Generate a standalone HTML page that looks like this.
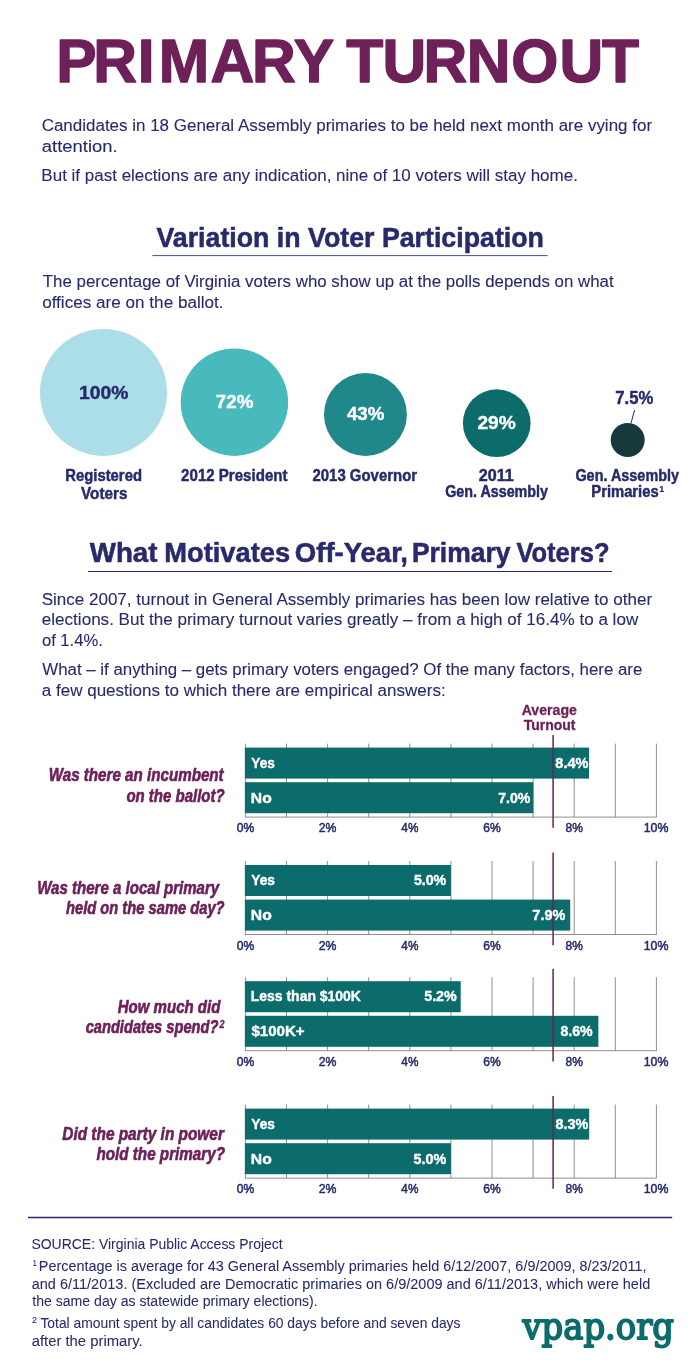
<!DOCTYPE html>
<html lang="en">
<head>
<meta charset="utf-8">
<title>Primary Turnout</title>
<style>
html,body{margin:0;padding:0;background:#fff}
svg{display:block;transform:translateZ(0);will-change:transform}
text{font-family:"Liberation Sans",sans-serif;white-space:pre}
</style>
</head>
<body>
<svg width="700" height="1368" viewBox="0 0 700 1368">
<rect width="700" height="1368" fill="#fff"/>
<circle cx="103.5" cy="392.4" r="63.5" fill="#abdee8"/>
<circle cx="234.4" cy="402.2" r="53.7" fill="#48b9bd"/>
<circle cx="365.45" cy="414.45" r="41.45" fill="#20888a"/>
<circle cx="496.75" cy="423.15" r="33.85" fill="#0c6c6b"/>
<circle cx="627.7" cy="440.0" r="17.0" fill="#163a3c"/>
<line x1="634.6" y1="410" x2="631" y2="423.2" stroke="#272a6b" stroke-width="1"/>
<line x1="152.4" y1="255.6" x2="547.6" y2="255.6" stroke="#4c508c" stroke-width="1"/>
<line x1="88" y1="571.5" x2="612" y2="571.5" stroke="#272a6b" stroke-width="1"/>
<line x1="28" y1="1217.4" x2="672.2" y2="1217.4" stroke="#272a6b" stroke-width="1.5"/>
<line x1="245.40" y1="743.60" x2="245.40" y2="817.10" stroke="#7c7c7c" stroke-width="0.85"/>
<line x1="286.50" y1="743.60" x2="286.50" y2="817.10" stroke="#7c7c7c" stroke-width="0.85"/>
<line x1="327.60" y1="743.60" x2="327.60" y2="817.10" stroke="#7c7c7c" stroke-width="0.85"/>
<line x1="368.70" y1="743.60" x2="368.70" y2="817.10" stroke="#7c7c7c" stroke-width="0.85"/>
<line x1="409.80" y1="743.60" x2="409.80" y2="817.10" stroke="#7c7c7c" stroke-width="0.85"/>
<line x1="450.90" y1="743.60" x2="450.90" y2="817.10" stroke="#7c7c7c" stroke-width="0.85"/>
<line x1="492.00" y1="743.60" x2="492.00" y2="817.10" stroke="#7c7c7c" stroke-width="0.85"/>
<line x1="533.10" y1="743.60" x2="533.10" y2="817.10" stroke="#7c7c7c" stroke-width="0.85"/>
<line x1="574.20" y1="743.60" x2="574.20" y2="817.10" stroke="#7c7c7c" stroke-width="0.85"/>
<line x1="615.30" y1="743.60" x2="615.30" y2="817.10" stroke="#7c7c7c" stroke-width="0.85"/>
<line x1="656.40" y1="743.60" x2="656.40" y2="817.10" stroke="#7c7c7c" stroke-width="0.85"/>
<line x1="244.95" y1="817.10" x2="656.85" y2="817.10" stroke="#7c7c7c" stroke-width="0.85"/>
<rect x="244.90" y="747.60" width="344.10" height="31" fill="#0c6c6b"/>
<rect x="244.90" y="782.20" width="288.40" height="31" fill="#0c6c6b"/>
<line x1="553.1" y1="735.10" x2="553.1" y2="827.80" stroke="#6e2058" stroke-width="1.5"/>
<line x1="245.40" y1="861.00" x2="245.40" y2="934.50" stroke="#7c7c7c" stroke-width="0.85"/>
<line x1="286.50" y1="861.00" x2="286.50" y2="934.50" stroke="#7c7c7c" stroke-width="0.85"/>
<line x1="327.60" y1="861.00" x2="327.60" y2="934.50" stroke="#7c7c7c" stroke-width="0.85"/>
<line x1="368.70" y1="861.00" x2="368.70" y2="934.50" stroke="#7c7c7c" stroke-width="0.85"/>
<line x1="409.80" y1="861.00" x2="409.80" y2="934.50" stroke="#7c7c7c" stroke-width="0.85"/>
<line x1="450.90" y1="861.00" x2="450.90" y2="934.50" stroke="#7c7c7c" stroke-width="0.85"/>
<line x1="492.00" y1="861.00" x2="492.00" y2="934.50" stroke="#7c7c7c" stroke-width="0.85"/>
<line x1="533.10" y1="861.00" x2="533.10" y2="934.50" stroke="#7c7c7c" stroke-width="0.85"/>
<line x1="574.20" y1="861.00" x2="574.20" y2="934.50" stroke="#7c7c7c" stroke-width="0.85"/>
<line x1="615.30" y1="861.00" x2="615.30" y2="934.50" stroke="#7c7c7c" stroke-width="0.85"/>
<line x1="656.40" y1="861.00" x2="656.40" y2="934.50" stroke="#7c7c7c" stroke-width="0.85"/>
<line x1="244.95" y1="934.50" x2="656.85" y2="934.50" stroke="#7c7c7c" stroke-width="0.85"/>
<rect x="244.90" y="865.00" width="206.00" height="31" fill="#0c6c6b"/>
<rect x="244.90" y="899.60" width="325.30" height="31" fill="#0c6c6b"/>
<line x1="553.1" y1="852.50" x2="553.1" y2="945.20" stroke="#6e2058" stroke-width="1.5"/>
<line x1="245.40" y1="977.20" x2="245.40" y2="1050.70" stroke="#7c7c7c" stroke-width="0.85"/>
<line x1="286.50" y1="977.20" x2="286.50" y2="1050.70" stroke="#7c7c7c" stroke-width="0.85"/>
<line x1="327.60" y1="977.20" x2="327.60" y2="1050.70" stroke="#7c7c7c" stroke-width="0.85"/>
<line x1="368.70" y1="977.20" x2="368.70" y2="1050.70" stroke="#7c7c7c" stroke-width="0.85"/>
<line x1="409.80" y1="977.20" x2="409.80" y2="1050.70" stroke="#7c7c7c" stroke-width="0.85"/>
<line x1="450.90" y1="977.20" x2="450.90" y2="1050.70" stroke="#7c7c7c" stroke-width="0.85"/>
<line x1="492.00" y1="977.20" x2="492.00" y2="1050.70" stroke="#7c7c7c" stroke-width="0.85"/>
<line x1="533.10" y1="977.20" x2="533.10" y2="1050.70" stroke="#7c7c7c" stroke-width="0.85"/>
<line x1="574.20" y1="977.20" x2="574.20" y2="1050.70" stroke="#7c7c7c" stroke-width="0.85"/>
<line x1="615.30" y1="977.20" x2="615.30" y2="1050.70" stroke="#7c7c7c" stroke-width="0.85"/>
<line x1="656.40" y1="977.20" x2="656.40" y2="1050.70" stroke="#7c7c7c" stroke-width="0.85"/>
<line x1="244.95" y1="1050.70" x2="656.85" y2="1050.70" stroke="#7c7c7c" stroke-width="0.85"/>
<rect x="244.90" y="981.20" width="215.80" height="31" fill="#0c6c6b"/>
<rect x="244.90" y="1015.80" width="353.50" height="31" fill="#0c6c6b"/>
<line x1="553.1" y1="968.70" x2="553.1" y2="1061.40" stroke="#6e2058" stroke-width="1.5"/>
<line x1="245.40" y1="1104.60" x2="245.40" y2="1178.10" stroke="#7c7c7c" stroke-width="0.85"/>
<line x1="286.50" y1="1104.60" x2="286.50" y2="1178.10" stroke="#7c7c7c" stroke-width="0.85"/>
<line x1="327.60" y1="1104.60" x2="327.60" y2="1178.10" stroke="#7c7c7c" stroke-width="0.85"/>
<line x1="368.70" y1="1104.60" x2="368.70" y2="1178.10" stroke="#7c7c7c" stroke-width="0.85"/>
<line x1="409.80" y1="1104.60" x2="409.80" y2="1178.10" stroke="#7c7c7c" stroke-width="0.85"/>
<line x1="450.90" y1="1104.60" x2="450.90" y2="1178.10" stroke="#7c7c7c" stroke-width="0.85"/>
<line x1="492.00" y1="1104.60" x2="492.00" y2="1178.10" stroke="#7c7c7c" stroke-width="0.85"/>
<line x1="533.10" y1="1104.60" x2="533.10" y2="1178.10" stroke="#7c7c7c" stroke-width="0.85"/>
<line x1="574.20" y1="1104.60" x2="574.20" y2="1178.10" stroke="#7c7c7c" stroke-width="0.85"/>
<line x1="615.30" y1="1104.60" x2="615.30" y2="1178.10" stroke="#7c7c7c" stroke-width="0.85"/>
<line x1="656.40" y1="1104.60" x2="656.40" y2="1178.10" stroke="#7c7c7c" stroke-width="0.85"/>
<line x1="244.95" y1="1178.10" x2="656.85" y2="1178.10" stroke="#7c7c7c" stroke-width="0.85"/>
<rect x="244.90" y="1108.60" width="344.30" height="31" fill="#0c6c6b"/>
<rect x="244.90" y="1143.20" width="206.00" height="31" fill="#0c6c6b"/>
<line x1="553.1" y1="1096.10" x2="553.1" y2="1188.80" stroke="#6e2058" stroke-width="1.5"/>
<text x="57.18 94.58 139.98 161.11 213.69 255.95 298.29 298.29 351.65 388.41 429.96 473.79 519.10 567.95 611.20" transform="translate(0 82.00) scale(0.9850 1)" font-size="61.5" fill="#6e2058" font-weight="bold" stroke="#6e2058" stroke-width="1.4" stroke-linejoin="round">PRIMARY TURNOUT</text>
<text transform="translate(41.66 131.00) scale(0.9824 1)" font-size="17.3" fill="#272a6b" stroke="#272a6b" stroke-width="0.1" stroke-linejoin="round">Candidates in 18 General Assembly primaries to be held next month are vying for</text>
<text transform="translate(41.85 151.50) scale(1.0658 1)" font-size="17.3" fill="#272a6b" stroke="#272a6b" stroke-width="0.1" stroke-linejoin="round">attention.</text>
<text transform="translate(41.34 180.50) scale(0.9832 1)" font-size="17.3" fill="#272a6b" stroke="#272a6b" stroke-width="0.1" stroke-linejoin="round">But if past elections are any indication, nine of 10 voters will stay home.</text>
<text transform="translate(156.47 247.20) scale(0.9695 1)" font-size="27.6" fill="#272a6b" font-weight="bold" stroke="#272a6b" stroke-width="0.55" stroke-linejoin="round">Variation in Voter Participation</text>
<text transform="translate(42.76 287.00) scale(0.9764 1)" font-size="17.3" fill="#272a6b" stroke="#272a6b" stroke-width="0.1" stroke-linejoin="round">The percentage of Virginia voters who show up at the polls depends on what</text>
<text transform="translate(42.14 307.50) scale(0.9902 1)" font-size="17.3" fill="#272a6b" stroke="#272a6b" stroke-width="0.1" stroke-linejoin="round">offices are on the ballot.</text>
<text transform="translate(79.08 399.00) scale(1.0391 1)" font-size="18.6" fill="#272a6b" font-weight="bold" stroke="#272a6b" stroke-width="0.4" stroke-linejoin="round">100%</text>
<text transform="translate(215.84 408.40) scale(1.0115 1)" font-size="18.6" fill="#ffffff" font-weight="bold" stroke="#ffffff" stroke-width="0.4" stroke-linejoin="round">72%</text>
<text transform="translate(346.93 420.40) scale(1.0068 1)" font-size="18.6" fill="#ffffff" font-weight="bold" stroke="#ffffff" stroke-width="0.4" stroke-linejoin="round">43%</text>
<text transform="translate(477.40 429.40) scale(1.0279 1)" font-size="18.6" fill="#ffffff" font-weight="bold" stroke="#ffffff" stroke-width="0.4" stroke-linejoin="round">29%</text>
<text transform="translate(615.26 404.40) scale(0.9499 1)" font-size="17.6" fill="#272a6b" font-weight="bold" stroke="#272a6b" stroke-width="0.4" stroke-linejoin="round">7.5%</text>
<text transform="translate(65.28 480.60) scale(0.9460 1)" font-size="15.7" fill="#272a6b" font-weight="bold" stroke="#272a6b" stroke-width="0.45" stroke-linejoin="round">Registered</text>
<text transform="translate(81.04 499.00) scale(0.9716 1)" font-size="15.7" fill="#272a6b" font-weight="bold" stroke="#272a6b" stroke-width="0.45" stroke-linejoin="round">Voters</text>
<text transform="translate(181.12 480.60) scale(0.9609 1)" font-size="15.7" fill="#272a6b" font-weight="bold" stroke="#272a6b" stroke-width="0.45" stroke-linejoin="round">2012 President</text>
<text transform="translate(312.51 480.60) scale(0.9516 1)" font-size="15.7" fill="#272a6b" font-weight="bold" stroke="#272a6b" stroke-width="0.45" stroke-linejoin="round">2013 Governor</text>
<text transform="translate(478.78 480.50) scale(1.0282 1)" font-size="15.7" fill="#272a6b" font-weight="bold" stroke="#272a6b" stroke-width="0.45" stroke-linejoin="round">2011</text>
<text transform="translate(445.13 496.80) scale(0.9126 1)" font-size="15.7" fill="#272a6b" font-weight="bold" stroke="#272a6b" stroke-width="0.45" stroke-linejoin="round">Gen. Assembly</text>
<text transform="translate(575.40 480.60) scale(0.9193 1)" font-size="15.7" fill="#272a6b" font-weight="bold" stroke="#272a6b" stroke-width="0.45" stroke-linejoin="round">Gen. Assembly</text>
<text transform="translate(591.30 497.00) scale(0.9414 1)" font-size="15.7" fill="#272a6b" font-weight="bold" stroke="#272a6b" stroke-width="0.45" stroke-linejoin="round">Primaries</text>
<text transform="translate(659.29 491.70) scale(1.0278 1)" font-size="8.7" fill="#272a6b" font-weight="bold" stroke="#272a6b" stroke-width="0.2" stroke-linejoin="round">1</text>
<text y="561.90" font-size="27.6" fill="#272a6b" font-weight="bold" stroke="#272a6b" stroke-width="0.55" stroke-linejoin="round"><tspan x="89.73" textLength="67.80" lengthAdjust="spacingAndGlyphs">What</tspan> <tspan x="164.26" textLength="125.82" lengthAdjust="spacingAndGlyphs">Motivates</tspan> <tspan x="294.86" textLength="113.15" lengthAdjust="spacingAndGlyphs">Off-Year,</tspan> <tspan x="411.89" textLength="98.65" lengthAdjust="spacingAndGlyphs">Primary</tspan> <tspan x="516.39" textLength="93.15" lengthAdjust="spacingAndGlyphs">Voters?</tspan></text>
<text transform="translate(41.63 604.50) scale(0.9851 1)" font-size="17.3" fill="#272a6b" stroke="#272a6b" stroke-width="0.1" stroke-linejoin="round">Since 2007, turnout in General Assembly primaries has been low relative to other</text>
<text transform="translate(41.82 625.00) scale(0.9869 1)" font-size="17.3" fill="#272a6b" stroke="#272a6b" stroke-width="0.1" stroke-linejoin="round">elections. But the primary turnout varies greatly – from a high of 16.4% to a low</text>
<text transform="translate(41.91 645.70) scale(0.9596 1)" font-size="17.3" fill="#272a6b" stroke="#272a6b" stroke-width="0.1" stroke-linejoin="round">of 1.4%.</text>
<text transform="translate(42.34 674.70) scale(0.9744 1)" font-size="17.3" fill="#272a6b" stroke="#272a6b" stroke-width="0.1" stroke-linejoin="round">What – if anything – gets primary voters engaged? Of the many factors, here are</text>
<text transform="translate(41.79 695.50) scale(0.9839 1)" font-size="17.3" fill="#272a6b" stroke="#272a6b" stroke-width="0.1" stroke-linejoin="round">a few questions to which there are empirical answers:</text>
<text transform="translate(521.71 714.80) scale(0.9729 1)" font-size="14.5" fill="#6e2058" font-weight="bold" stroke="#6e2058" stroke-width="0.3" stroke-linejoin="round">Average</text>
<text transform="translate(523.74 730.00) scale(0.9646 1)" font-size="14.5" fill="#6e2058" font-weight="bold" stroke="#6e2058" stroke-width="0.3" stroke-linejoin="round">Turnout</text>
<text transform="translate(251.27 767.80) scale(0.9471 1)" font-size="14.5" fill="#ffffff" font-weight="bold" stroke="#ffffff" stroke-width="0.4" stroke-linejoin="round">Yes</text>
<text transform="translate(555.37 767.80) scale(1.0003 1)" font-size="14.5" fill="#ffffff" font-weight="bold" stroke="#ffffff" stroke-width="0.4" stroke-linejoin="round">8.4%</text>
<text transform="translate(250.83 802.50) scale(1.0820 1)" font-size="14.5" fill="#ffffff" font-weight="bold" stroke="#ffffff" stroke-width="0.4" stroke-linejoin="round">No</text>
<text transform="translate(498.25 802.50) scale(0.9715 1)" font-size="14.5" fill="#ffffff" font-weight="bold" stroke="#ffffff" stroke-width="0.4" stroke-linejoin="round">7.0%</text>
<text transform="translate(236.67 832.10) scale(0.9328 1)" font-size="13" fill="#272a6b" stroke="#272a6b" stroke-width="0.5" stroke-linejoin="round">0%</text>
<text transform="translate(318.64 832.10) scale(0.9425 1)" font-size="13" fill="#272a6b" stroke="#272a6b" stroke-width="0.5" stroke-linejoin="round">2%</text>
<text transform="translate(401.36 832.10) scale(0.9074 1)" font-size="13" fill="#272a6b" stroke="#272a6b" stroke-width="0.5" stroke-linejoin="round">4%</text>
<text transform="translate(483.16 832.10) scale(0.9300 1)" font-size="13" fill="#272a6b" stroke="#272a6b" stroke-width="0.5" stroke-linejoin="round">6%</text>
<text transform="translate(565.47 832.10) scale(0.9252 1)" font-size="13" fill="#272a6b" stroke="#272a6b" stroke-width="0.5" stroke-linejoin="round">8%</text>
<text transform="translate(643.75 832.10) scale(0.9512 1)" font-size="13" fill="#272a6b" stroke="#272a6b" stroke-width="0.5" stroke-linejoin="round">10%</text>
<text transform="translate(48.70 781.30) scale(0.8574 1)" font-size="17.7" fill="#6e2058" font-weight="bold" font-style="italic" stroke="#6e2058" stroke-width="0.6" stroke-linejoin="round">Was there an incumbent</text>
<text transform="translate(126.38 801.50) scale(0.8477 1)" font-size="17.7" fill="#6e2058" font-weight="bold" font-style="italic" stroke="#6e2058" stroke-width="0.6" stroke-linejoin="round">on the ballot?</text>
<text transform="translate(251.27 885.20) scale(0.9471 1)" font-size="14.5" fill="#ffffff" font-weight="bold" stroke="#ffffff" stroke-width="0.4" stroke-linejoin="round">Yes</text>
<text transform="translate(413.96 885.20) scale(0.9761 1)" font-size="14.5" fill="#ffffff" font-weight="bold" stroke="#ffffff" stroke-width="0.4" stroke-linejoin="round">5.0%</text>
<text transform="translate(250.83 919.90) scale(1.0820 1)" font-size="14.5" fill="#ffffff" font-weight="bold" stroke="#ffffff" stroke-width="0.4" stroke-linejoin="round">No</text>
<text transform="translate(532.36 919.90) scale(0.9965 1)" font-size="14.5" fill="#ffffff" font-weight="bold" stroke="#ffffff" stroke-width="0.4" stroke-linejoin="round">7.9%</text>
<text transform="translate(236.67 949.50) scale(0.9328 1)" font-size="13" fill="#272a6b" stroke="#272a6b" stroke-width="0.5" stroke-linejoin="round">0%</text>
<text transform="translate(318.64 949.50) scale(0.9425 1)" font-size="13" fill="#272a6b" stroke="#272a6b" stroke-width="0.5" stroke-linejoin="round">2%</text>
<text transform="translate(401.36 949.50) scale(0.9074 1)" font-size="13" fill="#272a6b" stroke="#272a6b" stroke-width="0.5" stroke-linejoin="round">4%</text>
<text transform="translate(483.16 949.50) scale(0.9300 1)" font-size="13" fill="#272a6b" stroke="#272a6b" stroke-width="0.5" stroke-linejoin="round">6%</text>
<text transform="translate(565.47 949.50) scale(0.9252 1)" font-size="13" fill="#272a6b" stroke="#272a6b" stroke-width="0.5" stroke-linejoin="round">8%</text>
<text transform="translate(643.75 949.50) scale(0.9512 1)" font-size="13" fill="#272a6b" stroke="#272a6b" stroke-width="0.5" stroke-linejoin="round">10%</text>
<text transform="translate(37.15 893.50) scale(0.8506 1)" font-size="17.7" fill="#6e2058" font-weight="bold" font-style="italic" stroke="#6e2058" stroke-width="0.6" stroke-linejoin="round">Was there a local primary</text>
<text transform="translate(65.95 913.70) scale(0.8325 1)" font-size="17.7" fill="#6e2058" font-weight="bold" font-style="italic" stroke="#6e2058" stroke-width="0.6" stroke-linejoin="round">held on the same day?</text>
<text transform="translate(250.81 1001.40) scale(0.9631 1)" font-size="14.5" fill="#ffffff" font-weight="bold" stroke="#ffffff" stroke-width="0.4" stroke-linejoin="round">Less than $100K</text>
<text transform="translate(424.21 1001.40) scale(0.9855 1)" font-size="14.5" fill="#ffffff" font-weight="bold" stroke="#ffffff" stroke-width="0.4" stroke-linejoin="round">5.2%</text>
<text transform="translate(251.38 1036.10) scale(1.0404 1)" font-size="14.5" fill="#ffffff" font-weight="bold" stroke="#ffffff" stroke-width="0.4" stroke-linejoin="round">$100K+</text>
<text transform="translate(560.47 1036.10) scale(0.9761 1)" font-size="14.5" fill="#ffffff" font-weight="bold" stroke="#ffffff" stroke-width="0.4" stroke-linejoin="round">8.6%</text>
<text transform="translate(236.67 1065.70) scale(0.9328 1)" font-size="13" fill="#272a6b" stroke="#272a6b" stroke-width="0.5" stroke-linejoin="round">0%</text>
<text transform="translate(318.64 1065.70) scale(0.9425 1)" font-size="13" fill="#272a6b" stroke="#272a6b" stroke-width="0.5" stroke-linejoin="round">2%</text>
<text transform="translate(401.36 1065.70) scale(0.9074 1)" font-size="13" fill="#272a6b" stroke="#272a6b" stroke-width="0.5" stroke-linejoin="round">4%</text>
<text transform="translate(483.16 1065.70) scale(0.9300 1)" font-size="13" fill="#272a6b" stroke="#272a6b" stroke-width="0.5" stroke-linejoin="round">6%</text>
<text transform="translate(565.47 1065.70) scale(0.9252 1)" font-size="13" fill="#272a6b" stroke="#272a6b" stroke-width="0.5" stroke-linejoin="round">8%</text>
<text transform="translate(643.75 1065.70) scale(0.9512 1)" font-size="13" fill="#272a6b" stroke="#272a6b" stroke-width="0.5" stroke-linejoin="round">10%</text>
<text transform="translate(117.75 1012.90) scale(0.8491 1)" font-size="17.7" fill="#6e2058" font-weight="bold" font-style="italic" stroke="#6e2058" stroke-width="0.6" stroke-linejoin="round">How much did</text>
<text transform="translate(85.64 1033.00) scale(0.8282 1)" font-size="17.7" fill="#6e2058" font-weight="bold" font-style="italic" stroke="#6e2058" stroke-width="0.6" stroke-linejoin="round">candidates spend?</text>
<text transform="translate(251.27 1128.80) scale(0.9471 1)" font-size="14.5" fill="#ffffff" font-weight="bold" stroke="#ffffff" stroke-width="0.4" stroke-linejoin="round">Yes</text>
<text transform="translate(555.45 1128.80) scale(0.9931 1)" font-size="14.5" fill="#ffffff" font-weight="bold" stroke="#ffffff" stroke-width="0.4" stroke-linejoin="round">8.3%</text>
<text transform="translate(250.83 1163.50) scale(1.0820 1)" font-size="14.5" fill="#ffffff" font-weight="bold" stroke="#ffffff" stroke-width="0.4" stroke-linejoin="round">No</text>
<text transform="translate(413.62 1163.50) scale(0.9871 1)" font-size="14.5" fill="#ffffff" font-weight="bold" stroke="#ffffff" stroke-width="0.4" stroke-linejoin="round">5.0%</text>
<text transform="translate(236.67 1193.10) scale(0.9328 1)" font-size="13" fill="#272a6b" stroke="#272a6b" stroke-width="0.5" stroke-linejoin="round">0%</text>
<text transform="translate(318.64 1193.10) scale(0.9425 1)" font-size="13" fill="#272a6b" stroke="#272a6b" stroke-width="0.5" stroke-linejoin="round">2%</text>
<text transform="translate(401.36 1193.10) scale(0.9074 1)" font-size="13" fill="#272a6b" stroke="#272a6b" stroke-width="0.5" stroke-linejoin="round">4%</text>
<text transform="translate(483.16 1193.10) scale(0.9300 1)" font-size="13" fill="#272a6b" stroke="#272a6b" stroke-width="0.5" stroke-linejoin="round">6%</text>
<text transform="translate(565.47 1193.10) scale(0.9252 1)" font-size="13" fill="#272a6b" stroke="#272a6b" stroke-width="0.5" stroke-linejoin="round">8%</text>
<text transform="translate(643.75 1193.10) scale(0.9512 1)" font-size="13" fill="#272a6b" stroke="#272a6b" stroke-width="0.5" stroke-linejoin="round">10%</text>
<text transform="translate(62.29 1140.00) scale(0.8700 1)" font-size="17.7" fill="#6e2058" font-weight="bold" font-style="italic" stroke="#6e2058" stroke-width="0.6" stroke-linejoin="round">Did the party in power</text>
<text transform="translate(96.48 1160.00) scale(0.8596 1)" font-size="17.7" fill="#6e2058" font-weight="bold" font-style="italic" stroke="#6e2058" stroke-width="0.6" stroke-linejoin="round">hold the primary?</text>
<text transform="translate(219.43 1027.80) scale(0.9127 1)" font-size="10" fill="#6e2058" font-weight="bold" font-style="italic" stroke="#6e2058" stroke-width="0.3" stroke-linejoin="round">2</text>
<text transform="translate(31.39 1249.00) scale(0.9580 1)" font-size="14.6" fill="#272a6b" stroke="#272a6b" stroke-width="0.05" stroke-linejoin="round">SOURCE: Virginia Public Access Project</text>
<text transform="translate(32.52 1266.40) scale(0.8785 1)" font-size="9" fill="#272a6b" stroke="#272a6b" stroke-width="0.1" stroke-linejoin="round">1</text>
<text transform="translate(38.84 1271.00) scale(0.9874 1)" font-size="14.6" fill="#272a6b" stroke="#272a6b" stroke-width="0.05" stroke-linejoin="round">Percentage is average for 43 General Assembly primaries held 6/12/2007, 6/9/2009, 8/23/2011,</text>
<text transform="translate(31.73 1288.50) scale(0.9935 1)" font-size="14.6" fill="#272a6b" stroke="#272a6b" stroke-width="0.05" stroke-linejoin="round">and 6/11/2013. (Excluded are Democratic primaries on 6/9/2009 and 6/11/2013, which were held</text>
<text transform="translate(32.29 1305.70) scale(0.9646 1)" font-size="14.6" fill="#272a6b" stroke="#272a6b" stroke-width="0.05" stroke-linejoin="round">the same day as statewide primary elections).</text>
<text transform="translate(32.11 1323.40) scale(0.9950 1)" font-size="9" fill="#272a6b" stroke="#272a6b" stroke-width="0.1" stroke-linejoin="round">2</text>
<text transform="translate(40.44 1328.20) scale(0.9484 1)" font-size="14.6" fill="#272a6b" stroke="#272a6b" stroke-width="0.05" stroke-linejoin="round">Total amount spent by all candidates 60 days before and seven days</text>
<text transform="translate(31.66 1345.50) scale(1.0172 1)" font-size="14.6" fill="#272a6b" stroke="#272a6b" stroke-width="0.05" stroke-linejoin="round">after the primary.</text>
<text transform="translate(522.47 1339.20) scale(1.0029 1)" font-size="37.5" fill="#0c6c6b" style="font-family:'DejaVu Serif Condensed', 'DejaVu Serif', serif" stroke="#0c6c6b" stroke-width="1.8" stroke-linejoin="round">vpap.org</text>
</svg>
</body>
</html>
